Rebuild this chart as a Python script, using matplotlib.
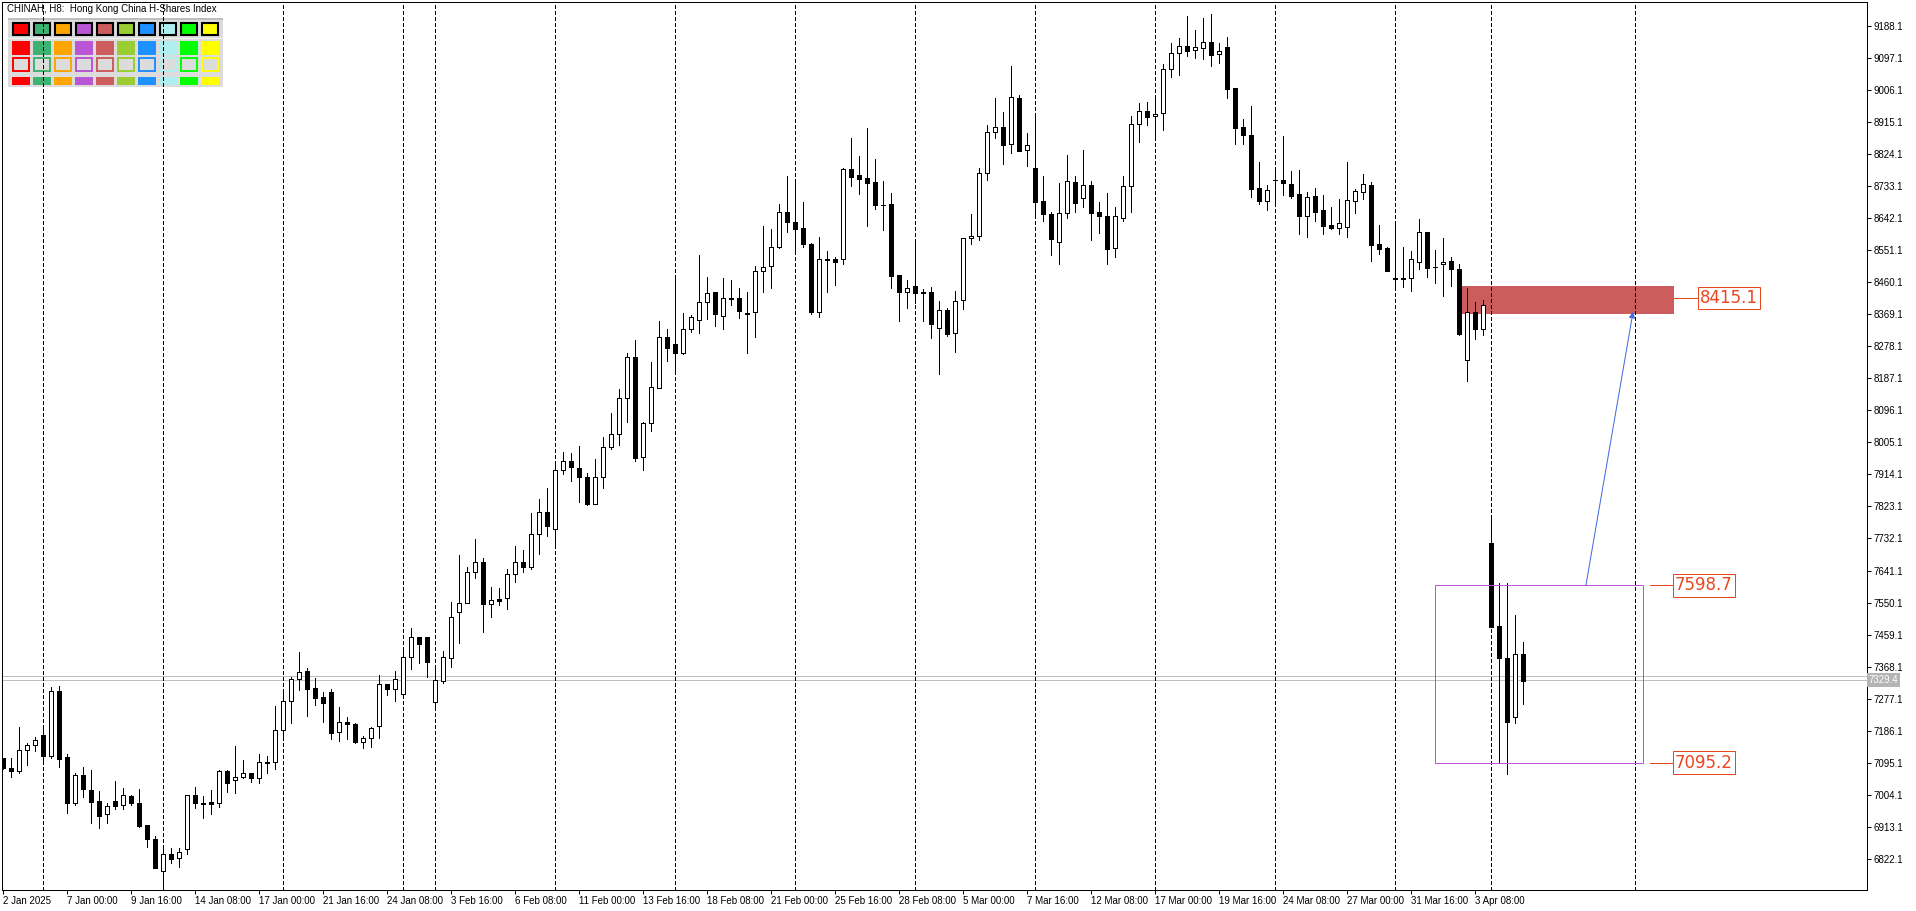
import numpy as np
import matplotlib
matplotlib.use('Agg')
import matplotlib.pyplot as plt
from matplotlib.patches import Rectangle
from matplotlib.transforms import IdentityTransform, blended_transform_factory

plt.rcParams['font.family'] = ['Liberation Sans', 'DejaVu Sans']
plt.rcParams['lines.scale_dashes'] = False

# CHINAH H8 bars, 2 Jan 2025 08:00 .. 7 Apr 2025
opens = [
    7107.9, 7080.5, 7072.9, 7130.7, 7144.9, 7174.2, 7114.6, 7299.1, 7111.7, 6982.1,
    7060.6, 7018.0, 6986.8, 6949.9, 6986.8, 6974.5, 7001.0, 6981.1, 6918.7, 6878.9,
    6788.0, 6835.4, 6824.0, 6849.6, 7003.8, 6981.1, 6984.0, 6980.2, 7072.0, 7045.5,
    7054.0, 7065.4, 7051.2, 7096.6, 7096.6, 7188.4, 7270.7, 7332.2, 7355.9, 7306.7,
    7282.1, 7296.3, 7181.8, 7210.2, 7204.5, 7155.3, 7164.7, 7200.7, 7318.0, 7303.9,
    7289.6, 7394.7, 7451.5, 7451.5, 7266.9, 7328.5, 7391.9, 7522.5, 7548.0, 7636.0,
    7664.4, 7545.2, 7559.4, 7562.2, 7631.3, 7666.3, 7650.2, 7743.9, 7808.3, 7758.1,
    7925.6, 7951.2, 7931.3, 7905.8, 7830.0, 7907.6, 7992.8, 8027.8, 8130.1, 8246.5,
    7962.5, 8059.1, 8158.4, 8303.2, 8283.4, 8257.8, 8325.9, 8352.5, 8404.5, 8431.0,
    8363.8, 8415.9, 8414.0, 8372.4, 8374.3, 8491.6, 8506.8, 8560.7, 8660.1, 8629.8,
    8612.8, 8568.3, 8376.2, 8524.8, 8525.7, 8526.7, 8780.3, 8763.3, 8754.8, 8743.4,
    8679.0, 8680.9, 8479.3, 8433.0, 8449.4, 8431.1, 8431.1, 8328.9, 8380.0, 8314.7,
    8408.4, 8584.4, 8592.0, 8769.0, 8885.3, 8899.5, 8853.2, 8981.9, 8834.2, 8784.1,
    8690.4, 8653.5, 8574.9, 8655.4, 8743.4, 8698.0, 8735.8, 8658.2, 8647.8, 8556.0,
    8643.1, 8733.9, 8908.1, 8945.9, 8930.8, 8939.3, 9064.2, 9111.6, 9130.5, 9120.1,
    9123.9, 9140.9, 9106.8, 9126.7, 9010.3, 8899.6, 8877.8, 8726.4, 8691.4, 8750.0,
    8750.0, 8738.7, 8710.3, 8648.8, 8704.6, 8664.9, 8621.3, 8614.7, 8617.5, 8691.4,
    8716.9, 8735.8, 8567.4, 8556.0, 8470.9, 8470.9, 8470.9, 8516.3, 8601.4, 8504.0,
    8510.6, 8519.1, 8496.4, 8238.0, 8374.3, 8326.1, 7718.5, 7483.8, 7392.0, 7224.4,
    7403.3,
]
highs = [
    7109.8, 7107.9, 7197.9, 7152.4, 7169.5, 7197.9, 7311.4, 7314.3, 7120.2, 7065.4,
    7084.3, 7074.8, 7015.2, 6982.1, 7043.6, 7022.8, 7003.8, 7020.9, 6918.7, 6887.4,
    6852.4, 6852.4, 6854.3, 7003.8, 7027.5, 7001.0, 7018.0, 7074.8, 7074.8, 7143.0,
    7103.2, 7067.3, 7120.2, 7114.6, 7256.5, 7302.0, 7339.8, 7409.8, 7363.5, 7335.1,
    7297.2, 7303.9, 7252.7, 7224.4, 7209.2, 7171.4, 7196.0, 7344.5, 7319.0, 7355.9,
    7420.3, 7477.0, 7453.4, 7453.4, 7363.5, 7412.7, 7552.7, 7685.2, 7652.1, 7730.7,
    7675.8, 7595.3, 7592.5, 7645.5, 7710.8, 7699.4, 7803.5, 7845.2, 7875.5, 7942.7,
    7977.7, 7973.9, 7994.7, 7917.1, 7956.9, 8019.3, 8087.5, 8155.6, 8257.8, 8295.7,
    8063.8, 8232.3, 8349.6, 8325.9, 8470.8, 8371.4, 8366.7, 8537.0, 8473.6, 8432.9,
    8470.8, 8466.0, 8442.4, 8431.1, 8505.8, 8619.4, 8610.0, 8681.9, 8761.4, 8740.5,
    8686.6, 8572.1, 8587.2, 8548.4, 8532.3, 8785.0, 8868.3, 8818.2, 8896.7, 8809.6,
    8747.2, 8712.2, 8479.3, 8466.1, 8579.7, 8440.5, 8446.2, 8406.5, 8387.5, 8434.9,
    8584.4, 8652.5, 8785.0, 8906.2, 8981.9, 8944.0, 9073.7, 8991.3, 8882.5, 8931.7,
    8761.4, 8658.2, 8742.4, 8821.0, 8761.4, 8835.2, 8747.2, 8686.6, 8712.2, 8674.3,
    8761.4, 8931.7, 8969.6, 8972.4, 8984.7, 9079.4, 9139.9, 9152.3, 9215.7, 9175.9,
    9209.0, 9220.4, 9138.1, 9157.0, 9010.3, 8923.2, 8960.1, 8800.2, 8734.9, 8780.3,
    8875.0, 8775.6, 8778.4, 8715.0, 8726.4, 8707.4, 8672.4, 8695.2, 8800.2, 8723.5,
    8767.1, 8745.3, 8622.3, 8558.9, 8625.1, 8558.9, 8549.4, 8639.3, 8601.4, 8551.3,
    8584.4, 8530.5, 8510.6, 8442.5, 8402.7, 8409.3, 7796.1, 7606.8, 7606.8, 7515.0,
    7439.3,
]
lows = [
    7077.7, 7055.9, 7067.3, 7089.0, 7129.7, 7103.2, 7109.8, 7084.3, 6951.8, 6975.5,
    6999.1, 6923.4, 6909.2, 6925.3, 6963.1, 6963.1, 6975.5, 6912.0, 6857.1, 6797.5,
    6743.6, 6809.8, 6800.4, 6835.4, 6967.9, 6937.6, 6949.0, 6970.7, 7013.3, 7010.5,
    7051.2, 7041.7, 7037.0, 7067.3, 7076.7, 7169.5, 7209.2, 7302.0, 7229.1, 7259.4,
    7212.0, 7161.9, 7158.1, 7161.9, 7152.4, 7136.3, 7141.1, 7166.6, 7286.8, 7269.8,
    7286.8, 7360.6, 7379.6, 7339.8, 7247.1, 7322.8, 7368.2, 7434.4, 7548.0, 7620.9,
    7467.6, 7510.2, 7543.3, 7531.0, 7609.5, 7637.9, 7644.5, 7687.1, 7740.1, 7715.5,
    7914.3, 7896.3, 7836.7, 7827.2, 7829.1, 7876.4, 7985.3, 7997.6, 8063.8, 7953.1,
    7926.6, 8037.3, 8158.4, 8237.0, 8205.8, 8255.0, 8319.3, 8314.6, 8356.2, 8335.4,
    8326.0, 8395.0, 8359.1, 8259.8, 8305.2, 8431.1, 8444.3, 8557.9, 8601.4, 8549.4,
    8560.7, 8369.6, 8362.0, 8433.0, 8451.9, 8510.6, 8733.9, 8710.3, 8620.4, 8667.7,
    8608.0, 8442.4, 8350.6, 8385.7, 8399.9, 8350.6, 8302.4, 8198.3, 8308.0, 8262.6,
    8384.7, 8567.4, 8579.7, 8750.0, 8870.2, 8795.4, 8825.7, 8833.3, 8789.8, 8652.5,
    8633.6, 8537.1, 8511.5, 8643.1, 8660.1, 8674.3, 8579.7, 8600.5, 8511.5, 8532.3,
    8633.6, 8658.2, 8858.8, 8906.2, 8873.0, 8892.0, 9041.5, 9048.2, 9102.1, 9097.4,
    9093.6, 9074.7, 9083.2, 8983.8, 8851.3, 8851.3, 8702.7, 8681.0, 8664.9, 8681.0,
    8707.4, 8699.9, 8596.7, 8589.2, 8634.6, 8596.7, 8610.9, 8595.8, 8589.2, 8657.3,
    8696.1, 8521.0, 8539.9, 8492.6, 8447.2, 8447.2, 8435.8, 8497.4, 8475.6, 8458.6,
    8421.7, 8450.0, 8310.0, 8180.3, 8298.6, 8310.0, 7481.9, 7095.7, 7062.6, 7209.3,
    7262.3,
]
closes = [
    7079.6, 7072.9, 7131.6, 7144.9, 7160.0, 7115.5, 7299.1, 7105.1, 6982.1, 7060.6,
    7019.9, 6984.9, 6945.2, 6972.6, 6973.6, 7003.8, 6980.2, 6916.8, 6878.0, 6797.5,
    6835.4, 6823.1, 6841.0, 7003.8, 6980.2, 6977.3, 6979.2, 7072.0, 7038.9, 7054.0,
    7065.4, 7051.2, 7096.6, 7095.6, 7188.4, 7270.7, 7332.2, 7353.1, 7303.9, 7280.2,
    7264.1, 7180.8, 7210.2, 7204.5, 7155.3, 7164.7, 7193.1, 7318.0, 7303.9, 7332.2,
    7394.7, 7451.5, 7431.6, 7382.4, 7330.3, 7394.7, 7508.2, 7548.0, 7636.0, 7664.4,
    7545.2, 7557.5, 7555.6, 7631.3, 7666.3, 7650.2, 7743.9, 7808.3, 7768.5, 7925.6,
    7951.2, 7934.1, 7905.8, 7830.0, 7905.8, 7990.9, 8027.8, 8130.1, 8246.5, 7961.6,
    8059.1, 8161.3, 8303.2, 8273.9, 8257.8, 8325.9, 8361.9, 8404.5, 8428.2, 8368.5,
    8415.9, 8413.0, 8378.9, 8370.5, 8491.6, 8502.0, 8560.7, 8660.1, 8631.7, 8611.8,
    8567.4, 8375.2, 8524.8, 8523.8, 8518.2, 8780.3, 8759.5, 8753.8, 8742.4, 8680.0,
    8678.1, 8478.4, 8433.0, 8442.4, 8430.1, 8430.1, 8342.1, 8380.0, 8313.7, 8405.5,
    8584.4, 8592.0, 8769.0, 8885.3, 8901.4, 8850.3, 8984.7, 8833.3, 8848.4, 8688.5,
    8652.5, 8581.6, 8655.4, 8747.2, 8685.7, 8735.8, 8657.3, 8648.7, 8555.1, 8647.8,
    8733.0, 8908.1, 8945.9, 8929.8, 8937.4, 9064.2, 9109.6, 9130.5, 9117.2, 9126.7,
    9140.9, 9105.9, 9115.3, 9009.4, 8898.6, 8877.8, 8725.4, 8691.4, 8720.7, 8749.1,
    8740.6, 8705.5, 8648.8, 8700.8, 8660.1, 8620.4, 8614.7, 8627.0, 8693.3, 8718.8,
    8738.7, 8565.5, 8554.1, 8492.6, 8469.0, 8469.0, 8524.8, 8601.4, 8501.1, 8502.1,
    8518.2, 8496.4, 8312.8, 8374.3, 8326.1, 8394.2, 7481.9, 7392.0, 7212.1, 7403.3,
    7328.5,
]

# axis labels
time_labels = ['2 Jan 2025', '7 Jan 00:00', '9 Jan 16:00', '14 Jan 08:00', '17 Jan 00:00',
               '21 Jan 16:00', '24 Jan 08:00', '3 Feb 16:00', '6 Feb 08:00', '11 Feb 00:00',
               '13 Feb 16:00', '18 Feb 08:00', '21 Feb 00:00', '25 Feb 16:00', '28 Feb 08:00',
               '5 Mar 00:00', '7 Mar 16:00', '12 Mar 08:00', '17 Mar 00:00', '19 Mar 16:00',
               '24 Mar 08:00', '27 Mar 00:00', '31 Mar 16:00', '3 Apr 08:00']
label_bars = list(range(0, 8 * len(time_labels), 8))
week_starts = [5, 20, 35, 50, 54, 69, 84, 99, 114, 129, 144, 159, 174, 186, 204]
price_ticks = np.arange(6822.1, 9188.2, 91.0)

bid, ask = 7329.4, 7340.8

# drawn objects
zone_low, zone_high = 8370.5, 8449.0
zone_from, zone_to = 182.2, 208.9
zone_price = 8415.1
box_low, box_high = 7095.2, 7598.7
box_from, box_to = 179.0, 205.0
arrow_from = (197.9, 7598.7)
arrow_to = (203.8, 8376.0)

palette = ['#FF0000', '#3CB371', '#FFA500', '#BA55D3', '#CD5C5C',
           '#9ACD32', '#1E90FF', '#AFEEEE', '#00FF00', '#FFFF00']

W, H = 1916, 911
PX = 0.72  # 1 pixel in points
LBL = '#E8471F'

fig = plt.figure(figsize=(W / 100, H / 100), dpi=100)
fig.patch.set_facecolor('white')
ax = fig.add_axes([2.3 / W, (H - 890) / H, (1867 - 2.3) / W, (890 - 2.3) / H])
ax.set_xlim(-0.05, 233.04)
ax.set_ylim(6734.1, 9254.5)
for sp in ax.spines.values():
    sp.set_linewidth(PX)
    sp.set_color('black')

# palette panel (screen pixels, top-left origin)
def px_rect(x, y, w, h, **kw):
    r = Rectangle((x, H - y - h), w, h, transform=IdentityTransform(), **kw)
    ax.add_patch(r)
    return r

px_rect(8.3, 18.3, 214.4, 69, fc='#DCDCDC', ec='none', zorder=1)
px_rect(8.3, 18.3, 214.4, 2, fc='#BEBEBE', ec='none', zorder=1)
px_rect(8.3, 38, 214.4, 1, fc='#F4F4F4', ec='none', zorder=1)
for k, col in enumerate(palette):
    x0 = 12 + 21 * k
    px_rect(x0 + 0.5, 22.8, 16, 12, fc=col, ec='black', lw=1.5, zorder=1.1)
    px_rect(x0, 40.7, 17.5, 14.3, fc=col, ec='none', zorder=1.1)
    px_rect(x0 + 0.7, 58, 16.1, 13, fc='#DCDCDC', ec=col, lw=1.4, zorder=1.1)
    px_rect(x0, 76.7, 17.5, 8.3, fc=col, ec='none', zorder=1.1)

ax.text(6.7, H - 11.7, 'CHINAH, H8:  Hong Kong China H-Shares Index', transform=IdentityTransform(),
        fontsize=7, color='black', ha='left', va='baseline', zorder=6)

# zone rectangle (behind candles)
ax.add_patch(Rectangle((zone_from, zone_low), zone_to - zone_from, zone_high - zone_low,
                       fc='#CD5C5C', ec='none', zorder=1.2))

# week separators
for wk in week_starts:
    ax.axvline(wk, color='black', lw=PX, dashes=(2.2, 1.5), zorder=1.5, antialiased=False)

# bid / ask lines
ax.axhline(bid, color='#C0C0C0', lw=PX, zorder=1.4)
ax.axhline(ask, color='#C0C0C0', lw=PX, zorder=1.4)

# candles
bars = np.arange(len(opens))
for i in bars:
    o, hi, lo, c = opens[i], highs[i], lows[i], closes[i]
    ax.vlines(i, lo, hi, color='black', lw=PX, zorder=3, antialiased=False)
    fc = 'white' if c >= o else 'black'
    ax.add_patch(Rectangle((i - 0.27, min(o, c)), 0.54, abs(c - o), fc=fc, ec='black',
                           lw=PX, zorder=4, antialiased=False))

# range box and arrow
ax.add_patch(Rectangle((box_from, box_low), box_to - box_from, box_high - box_low,
                       fill=False, ec='#BA55D3', lw=PX, zorder=5))
ax.annotate('', xy=arrow_to, xytext=arrow_from,
            arrowprops=dict(arrowstyle='-|>', color='#4169E1', lw=PX, mutation_scale=9,
                            shrinkA=0, shrinkB=0), zorder=5)

# price labels
def price_label(price, x_line0, x_box):
    ax.plot([x_line0, x_box], [price, price], color=LBL, lw=PX, zorder=5)
    ax.text(x_box + 0.35, price, f'{price:.1f}', family='DejaVu Sans', fontsize=12, color=LBL,
            ha='left', va='center', zorder=6,
            bbox=dict(boxstyle='square,pad=0.14', fc='white', ec=LBL, lw=PX))

price_label(zone_price, zone_to, 211.8)
price_label(box_high, 205.9, 208.7)
price_label(box_low, 205.9, 208.7)

# axes ticks
ax.yaxis.tick_right()
ax.set_yticks(price_ticks)
ax.set_yticklabels([f'{v:.1f}' for v in price_ticks])
ax.tick_params(axis='y', direction='out', length=3, width=PX, pad=1.5, labelsize=7, colors='black')
ax.set_xticks(label_bars)
ax.set_xticklabels(time_labels, ha='left')
ax.tick_params(axis='x', direction='out', length=3, width=PX, pad=1.5, labelsize=7, colors='black')

tr = blended_transform_factory(ax.transAxes, ax.transData)
ax.text(1.0008, bid, f'{bid:.1f}', transform=tr, fontsize=7, color='white', ha='left', va='center',
        bbox=dict(boxstyle='square,pad=0.2', fc='#B4B4B4', ec='none'), zorder=7, clip_on=False)

fig.savefig('out.png', dpi=100)
